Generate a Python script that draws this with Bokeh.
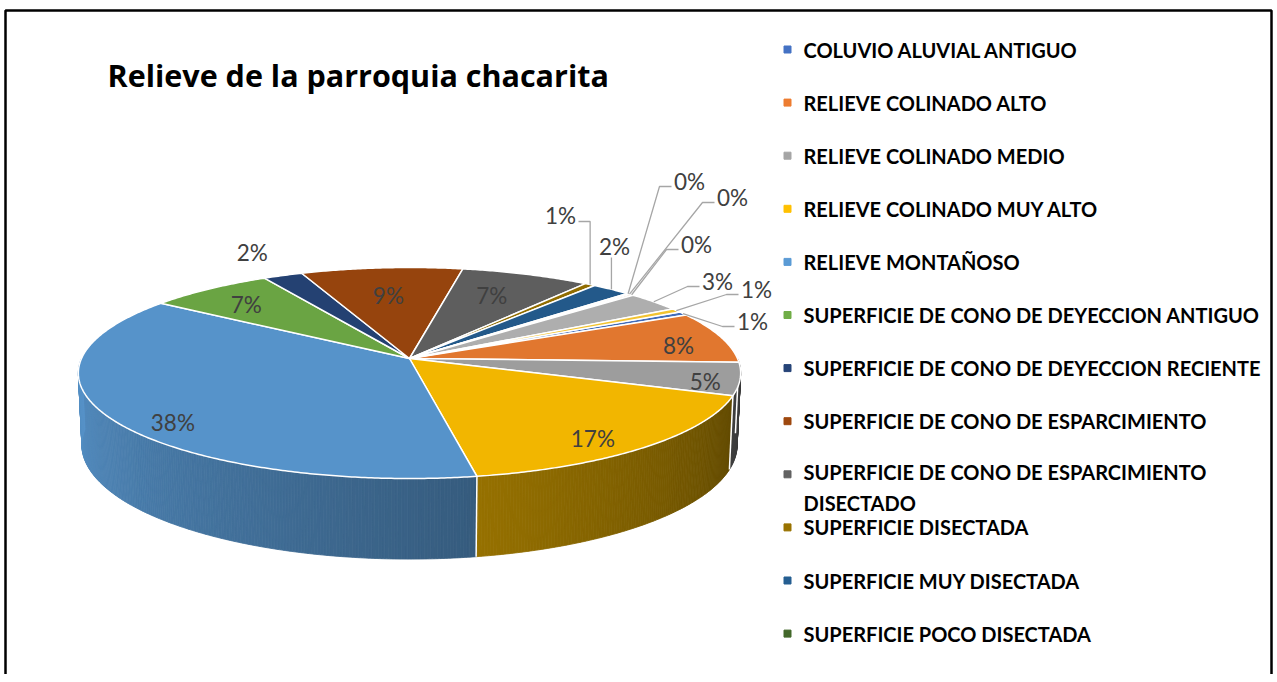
import numpy as np
from bokeh.plotting import figure
from bokeh.models import Range1d
from bokeh.core.properties import value
from bokeh.embed import file_html
from bokeh.resources import INLINE

# ---------------- data ----------------
categories = [
    "COLUVIO ALUVIAL ANTIGUO",
    "RELIEVE COLINADO ALTO",
    "RELIEVE COLINADO MEDIO",
    "RELIEVE COLINADO MUY ALTO",
    "RELIEVE MONTAÑOSO",
    "SUPERFICIE DE CONO DE DEYECCION ANTIGUO",
    "SUPERFICIE DE CONO DE DEYECCION RECIENTE",
    "SUPERFICIE DE CONO DE ESPARCIMIENTO",
    "SUPERFICIE DE CONO DE ESPARCIMIENTO DISECTADO",
    "SUPERFICIE DISECTADA",
    "SUPERFICIE MUY DISECTADA",
    "SUPERFICIE POCO DISECTADA",
    "CATEGORÍA 13",
    "CATEGORÍA 14",
    "CATEGORÍA 15",
    "CATEGORÍA 16",
]
values = [0.6, 7.9, 5.0, 16.6, 37.6, 7.0, 2.2, 9.0, 7.2, 0.6, 2.2, 0.1, 0.1, 0.2, 3.1, 0.6]
colors = ["#4472C4", "#ED7D31", "#A5A5A5", "#FFC000", "#5B9BD5", "#70AD47",
          "#264478", "#9E480E", "#636363", "#997300", "#255E91", "#43682B",
          "#698ED0", "#F1975A", "#B7B7B7", "#FFCD33"]
N_LEGEND = 12
title_text = "Relieve de la parroquia chacarita"

# ---------------- layout / style ----------------
W, H = 1274, 674
CX, CY, RAD = 409.0, 358.0, 328.0
SIN_A = 0.3156
COS_A = float(np.sqrt(1 - SIN_A ** 2))
DIST = 6.9
DEPTH = 0.23
START_DEG = 28.6
TOP_SHADE = 0.95
LABEL_FONT = "Lato"
LABEL_SIZE = "22.5px"
LABEL_COLOR = "#404040"
LEADER_COLOR = "#A6A6A6"

# inside / free labels: index -> (radius factor, vertical nudge)
inside_style = {4: (0.805, 16), 3: (0.795, 11), 7: (0.73, 5), 1: (0.86, 5),
                5: (0.80, 3), 8: (0.68, -4), 2: (0.897, 5), 6: (1.28, -3)}
# labels with leader lines: index -> (kind, label x, label y)
leader_style = {9: ("left", 560, 215), 10: ("up", 614, 246),
                11: ("right", 689, 181), 12: ("right", 732, 197),
                13: ("right", 696, 244), 14: ("right", 717, 281),
                15: ("right", 756, 289), 0: ("right", 752, 321)}


def proj(X, Y, Z=0.0):
    X = np.asarray(X, float)
    Y = np.asarray(Y, float)
    v = Y * SIN_A + Z * COS_A
    w = -Y * COS_A + Z * SIN_A
    s = DIST / (DIST - w)
    return CX + RAD * X * s, CY - RAD * v * s


def shade(hex_color, f):
    rgb = [int(hex_color[k:k + 2], 16) for k in (1, 3, 5)]
    return "#%02x%02x%02x" % tuple(max(0, min(255, int(round(c * f)))) for c in rgb)


total = float(sum(values))
spans = np.array(values) / total * 360.0
starts = START_DEG - np.concatenate([[0.0], np.cumsum(spans)[:-1]])
ends = starts - spans
mids = (starts + ends) / 2.0
pct = ["%d%%" % round(v / total * 100) for v in values]

p = figure(width=W, height=H, x_range=Range1d(0, W), y_range=Range1d(H, 0),
           output_backend="svg", toolbar_location=None, min_border=0,
           x_axis_location=None, y_axis_location=None)
p.grid.visible = False
p.outline_line_color = None
p.background_fill_color = "white"
p.border_fill_color = "white"

# frame
p.line([5, 5, 1271, 1271], [H + 5, 10, 10, H + 5], line_color="black", line_width=2.5)

# ---------------- side walls ----------------
wx, wy, wc = [], [], []
for i in range(len(values)):
    a0, a1 = starts[i], ends[i]
    grid = list(np.arange(a0, a1, -0.5)) + [a1]
    for k in range(-4, 4):
        c = 180.0 * k
        if a1 < c < a0:
            grid.append(c)
    grid = sorted(set(grid), reverse=True)
    for t1, t2 in zip(grid[:-1], grid[1:]):
        tm = (t1 + t2) / 2.0
        if np.sin(np.radians(tm)) >= 0:
            continue
        th = np.radians([t1, t2])
        xt, yt = proj(np.cos(th), np.sin(th), 0.0)
        xb, yb = proj(np.cos(th), np.sin(th), -DEPTH)
        wx.append([xt[0], xt[1], xb[1], xb[0]])
        wy.append([yt[0], yt[1], yb[1], yb[0]])
        phi = (tm % 360.0) - 180.0
        wc.append(shade(colors[i], 0.94 - 0.0035 * phi))
p.patches(wx, wy, fill_color=wc, line_color=wc, line_width=0.8)

# white separators on walls
sx, sy = [], []
for b in starts:
    if np.sin(np.radians(b)) < -0.02:
        th = np.radians(b)
        xt, yt = proj(np.cos(th), np.sin(th), 0.0)
        xb, yb = proj(np.cos(th), np.sin(th), -DEPTH)
        sx.append([float(xt), float(xb)])
        sy.append([float(yt), float(yb)])
p.multi_line(sx, sy, line_color="white", line_width=1.5)

# ---------------- top face ----------------
tx, ty = [], []
for i in range(len(values)):
    n = max(3, int(spans[i] * 2) + 2)
    th = np.radians(np.linspace(starts[i], ends[i], n))
    x, y = proj(np.cos(th), np.sin(th), 0.0)
    tx.append([CX] + list(x))
    ty.append([CY] + list(y))
top_cols = [shade(c, TOP_SHADE) for c in colors]
p.patches(tx, ty, fill_color=top_cols, line_color="white", line_width=1.5, line_join="round")

# ---------------- data labels ----------------
lx, ly, lt = [], [], []
for i, (r, dy) in inside_style.items():
    th = np.radians(mids[i])
    x, y = proj(r * np.cos(th), r * np.sin(th), 0.0)
    lx.append(float(x))
    ly.append(float(y) + dy)
    lt.append(pct[i])

mx, my = [], []
for i, (kind, px, py) in leader_style.items():
    th = np.radians(mids[i])
    ax, ay = proj(np.cos(th), np.sin(th), 0.0)
    ax, ay = float(ax), float(ay)
    if kind == "left":
        mx.append([ax, ax, px + 18])
        my.append([ay, py + 6, py + 6])
    elif kind == "up":
        mx.append([ax, ax])
        my.append([ay, py + 11])
    else:
        mx.append([ax, px - 30, px - 18])
        my.append([ay, py + 5, py + 5])
    lx.append(px)
    ly.append(py)
    lt.append(pct[i])
p.multi_line(mx, my, line_color=LEADER_COLOR, line_width=1.3)
p.text(lx, ly, text=lt, text_font=value(LABEL_FONT), text_font_size=LABEL_SIZE,
       text_color=LABEL_COLOR, text_align="center", text_baseline="middle")

# ---------------- title ----------------
p.text([107], [74], text=[title_text], text_font=value("Open Sans"), text_font_style="bold",
       text_font_size="30.5px", text_color="black", text_align="left", text_baseline="middle")

# ---------------- legend ----------------
row_y = [49 + 53.1 * k for k in range(N_LEGEND)]
wrap = {"SUPERFICIE DE CONO DE ESPARCIMIENTO DISECTADO": "SUPERFICIE DE CONO DE ESPARCIMIENTO\nDISECTADO"}
p.scatter([787] * N_LEGEND, row_y, marker="square", size=7, color=colors[:N_LEGEND])
single_x, single_y, single_t = [], [], []
multi_x, multi_y, multi_t = [], [], []
LEG_SIZE = 20
for k in range(N_LEGEND):
    name = categories[k]
    if name in wrap:
        multi_x.append(803)
        multi_y.append(row_y[k] - 14)
        multi_t.append(wrap[name])
    else:
        single_x.append(803)
        single_y.append(row_y[k])
        single_t.append(name)
p.text(single_x, single_y, text=single_t, text_font=value("Lato"), text_font_style="bold",
       text_font_size="%spx" % LEG_SIZE, text_color="black", text_align="left", text_baseline="middle")
p.text(multi_x, multi_y, text=multi_t, text_font=value("Lato"), text_font_style="bold",
       text_font_size="%spx" % LEG_SIZE, text_color="black", text_align="left", text_baseline="top",
       text_line_height=1.3)

open("out.html", "w").write(file_html(p, INLINE))
